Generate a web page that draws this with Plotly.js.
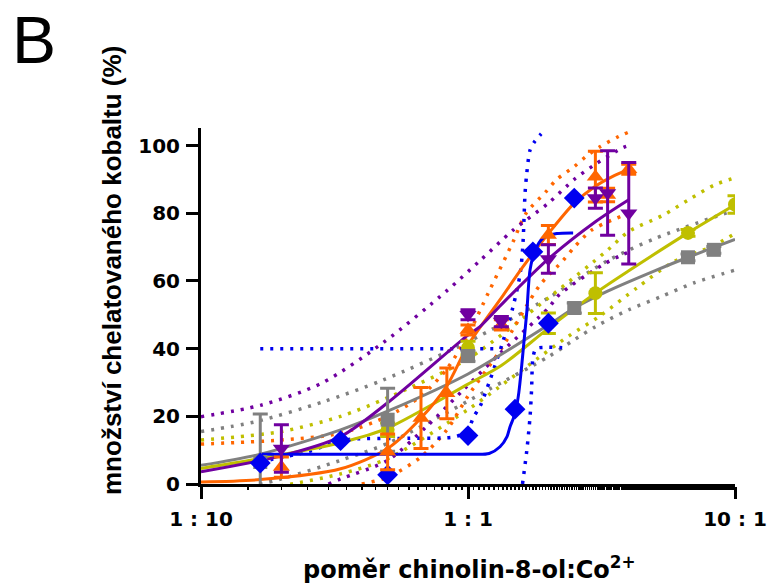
<!DOCTYPE html>
<html>
<head>
<meta charset="utf-8">
<script src="https://cdn.plot.ly/plotly-3.0.1.min.js"></script>
<style>html,body{margin:0;padding:0;background:#fff;}#chart{width:767px;height:586px;}</style>
</head>
<body>
<div id="chart"></div>
<script>
// ---------- data ----------
const xTickVals = [0.1, 1, 10];
const xTickText = ['1 : 10', '1 : 1', '10 : 1'];
const yTickVals = [0, 20, 40, 60, 80, 100];

// grey squares
const greyX   = [0.1667, 0.5, 1, 2.5, 6.667, 8.333];
const greyY   = [6.5, 19, 37.8, 52, 67, 69.2];
const greyErr = [14.2, 9.3, 1.5, 1.5, 1, 1];
const greyFitX = [0.1, 0.1667, 0.3333, 0.5, 1, 2, 2.5, 3.333, 5, 6.667, 10];
const greyFitY = [5.5, 8.8, 16, 21.5, 32.5, 47, 52, 57, 63, 67, 72.3];
const greyUpX = [0.1, 0.16, 0.287, 0.48, 1, 2, 3.333, 5, 10];
const greyUpY = [15.5, 18.4, 24.3, 30.7, 42, 55, 66, 72.5, 81];
const greyLoX = [0.1, 0.2, 0.3333, 0.5, 1, 1.2, 2, 2.5, 3, 4, 5.3, 7, 10];
const greyLoY = [-4, 1.5, 7, 12, 24.5, 28, 37.6, 42.6, 46.5, 51.5, 55.4, 59.4, 63.2];

// yellow circles
const yelX   = [0.5, 1, 2, 3, 6.667, 10];
const yelY   = [16, 40.2, 47.5, 56.4, 74.2, 82.6];
const yelErr = [2, 2, 3, 6, 1, 2.6];
const yelFitX = [0.1, 0.1667, 0.3333, 0.5, 1, 1.333, 2, 3, 4, 6.667, 10];
const yelFitY = [4.6, 7.5, 12.2, 16.5, 29.5, 35, 46, 56.4, 63, 74.2, 82.5];
const yelUpX = [0.1, 0.2, 0.3333, 0.5, 1, 2, 3.32, 4, 5.4, 6.7, 8.4, 10];
const yelUpY = [13, 15.5, 20, 25.5, 37, 55, 69, 74.6, 79.5, 84, 88.4, 90.5];
const yelLoX = [0.1, 0.2, 0.3333, 0.5, 1, 1.3, 1.66, 2.37, 3.1, 4.3, 5.9, 8.1, 10];
const yelLoY = [-3.5, -0.5, 3, 7.5, 22, 28.5, 34.7, 43.6, 49.5, 58, 65.7, 70, 74];

// blue diamonds
const bluX = [0.1667, 0.3333, 0.5, 1, 1.5, 1.75, 2, 2.5];
const bluY = [6.2, 12.8, 2.7, 14.3, 22.1, 68.6, 47.5, 84.5];
const bluFitX = [0.1667, 0.5, 1, 1.2, 1.318, 1.4, 1.438, 1.48, 1.514, 1.55, 1.589, 1.62, 1.661, 1.708, 1.783, 1.911, 2.15, 2.476];
const bluFitY = [8.8, 8.8, 8.8, 9, 11, 14, 17, 19.5, 22.2, 27, 35, 42, 51, 63.3, 69, 72.7, 74, 74.2];
const bluFlatX = [0.1667, 1.3];
const bluFlatY = [40, 40];
const bluUpX = [0.1667, 0.25, 0.345, 0.6, 0.9, 1.0, 1.05, 1.109, 1.21, 1.35, 1.475, 1.567, 1.604, 1.636, 1.66, 1.708, 1.77, 1.88];
const bluUpY = [6.6, 9.5, 13, 13.5, 14, 16, 19.9, 22.9, 30.8, 42, 52.4, 62, 70.2, 86, 91.8, 98.7, 101, 103.5];
const bluLoX = [1.6, 1.661, 1.708, 1.73, 1.753, 1.8, 1.95, 2.35];
const bluLoY = [0, 10, 20, 27.8, 37.6, 40, 40.4, 40.2];

// orange triangles (up)
const orX   = [0.2, 0.5, 0.6667, 0.8333, 1, 1.3333, 2, 3, 3.3333, 4];
const orY   = [5, 9.5, 19.5, 26.8, 45.5, 47, 73.6, 90.8, 85.4, 93];
const orErr = [3, 5.3, 9, 7.5, 1.5, 1.5, 2.8, 7.5, 2, 1.5];
const orFitX = [0.1, 0.1667, 0.3333, 0.5, 0.6667, 0.8333, 1, 1.333, 1.6, 2, 2.5, 3, 3.5, 4];
const orFitY = [0.6, 1.3, 4.5, 10.5, 19.5, 29, 41, 55, 64, 74, 83, 88, 91, 93];
const orUpX = [0.1, 0.2, 0.3333, 0.5, 0.6667, 0.8333, 1, 1.2, 1.475, 1.65, 1.96, 2.15, 2.5, 2.77, 3.13, 3.67, 4];
const orUpY = [11.8, 13, 15, 20, 26, 34, 44, 57, 71.6, 80, 86.4, 90, 93.8, 96.8, 99.7, 102.7, 104];
const orLoX = [0.4, 0.5, 0.6667, 0.8333, 1, 1.3333, 1.86, 2.28, 2.52, 2.9, 3.35, 4];
const orLoY = [0, 2, 8, 16, 26, 40, 58.8, 66.2, 70.3, 75, 77.5, 80];

// purple triangles (down)
const puX   = [0.2, 1, 1.3333, 2, 3, 3.3333, 4];
const puY   = [10.5, 50, 48, 66.5, 84.5, 86, 80];
const puErr = [7, 1.5, 1.5, 4.2, 3, 12.5, 15];
const puFitX = [0.1, 0.2, 0.3333, 0.5, 1, 1.109, 1.333, 2, 3, 4];
const puFitY = [3.6, 8.3, 14, 24, 44, 46.5, 53, 66.5, 77.5, 84];
const puUpX = [0.1, 0.168, 0.283, 0.48, 0.83, 1.109, 1.475, 2, 2.5, 3, 3.8, 4];
const puUpY = [19.9, 23.3, 29.8, 41.7, 57, 66, 75, 83, 90, 94.5, 99.4, 100];
const puLoX = [0.3, 0.3333, 0.5, 0.7, 0.96, 1.3333, 2, 2.2, 3.2, 3.8, 4];
const puLoY = [0, 1.5, 7, 17, 27.8, 39, 52, 56, 64.8, 67.8, 68.5];

// ---------- styles ----------
const C = {grey: '#808080', yel: '#bfbf00', blue: '#0000f0', orange: '#ff6600', purple: '#7000a0'};
const SANS = 'Liberation Sans, Arial, sans-serif';
const WIDE = 'DejaVu Sans, Verdana, sans-serif';

function band(x, y, color) {
  return {x: x, y: y, type: 'scatter', mode: 'lines', hoverinfo: 'skip',
    line: {color: color, width: 3.5, dash: '3px,7px', shape: 'spline', smoothing: 0.8}};
}
function fit(x, y, color) {
  return {x: x, y: y, type: 'scatter', mode: 'lines', hoverinfo: 'skip',
    line: {color: color, width: 3, shape: 'spline', smoothing: 0.8}};
}
function pts(x, y, err, color, symbol, size) {
  const t = {x: x, y: y, type: 'scatter', mode: 'markers', hoverinfo: 'skip',
    marker: {color: color, symbol: symbol, size: size, line: {width: 0}}};
  if (err) t.error_y = {type: 'data', array: err, visible: true, color: color, thickness: 3, width: 7.5};
  return t;
}

const traces = [
  band(greyUpX, greyUpY, C.grey), band(greyLoX, greyLoY, C.grey),
  band(yelUpX, yelUpY, C.yel), band(yelLoX, yelLoY, C.yel),
  band(orUpX, orUpY, C.orange), band(orLoX, orLoY, C.orange),
  band(puUpX, puUpY, C.purple), band(puLoX, puLoY, C.purple),
  band(bluFlatX, bluFlatY, C.blue), band(bluUpX, bluUpY, C.blue), band(bluLoX, bluLoY, C.blue),
  fit(greyFitX, greyFitY, C.grey),
  fit(yelFitX, yelFitY, C.yel),
  fit(orFitX, orFitY, C.orange),
  fit(puFitX, puFitY, C.purple),
  fit(bluFitX, bluFitY, C.blue),
  pts(yelX, yelY, yelErr, C.yel, 'circle', 14),
  pts(greyX, greyY, greyErr, C.grey, 'square', 14),
  pts(bluX, bluY, null, C.blue, 'diamond', 16),
  pts(orX, orY, orErr, C.orange, 'triangle-up', 15),
  pts(puX, puY, puErr, C.purple, 'triangle-down', 15)
];

const L = 201, R = 735, T = 128, B = 484;
const W = 767, H = 586;
const px2paperX = p => (p - L) / (R - L);
const px2paperY = p => (B - p) / (B - T);

const axisCommon = {
  showline: true, linewidth: 3, linecolor: '#000', mirror: false,
  ticks: 'outside', ticklen: 12, tickwidth: 3, tickcolor: '#000',
  showgrid: false, zeroline: false,
  tickfont: {family: WIDE, size: 20, color: '#000', weight: 'bold'}
};

const layout = {
  width: W, height: H,
  margin: {l: L, r: W - R, t: T, b: H - B, pad: 0},
  paper_bgcolor: '#fff', plot_bgcolor: '#fff',
  showlegend: false, hovermode: false,
  xaxis: Object.assign({}, axisCommon, {
    type: 'log', range: [-1, 1], tickvals: xTickVals, ticktext: xTickText,
    ticklabelstandoff: 3,
    minor: {ticks: 'outside', ticklen: 3, tickwidth: 1.5, tickcolor: '#000'}
  }),
  yaxis: Object.assign({}, axisCommon, {
    range: [0, 105.2], tickvals: yTickVals, ticktext: yTickVals.map(String),
    ticklabelstandoff: 2
  }),
  annotations: [
    {text: 'B', xref: 'paper', yref: 'paper', x: px2paperX(10), y: px2paperY(40), xanchor: 'left', yanchor: 'middle',
     showarrow: false, font: {family: SANS, size: 66, color: '#000'}},
    {text: 'množství chelatovaného kobaltu (%)', xref: 'paper', yref: 'paper', x: px2paperX(112), y: px2paperY(271),
     xanchor: 'center', yanchor: 'middle', textangle: -90, showarrow: false,
     font: {family: SANS, size: 26, color: '#000', weight: 'bold'}},
    {text: 'poměr chinolin-8-ol:Co<sup>2+</sup>', xref: 'paper', yref: 'paper', x: px2paperX(469), y: px2paperY(568),
     xanchor: 'center', yanchor: 'middle', showarrow: false,
     font: {family: WIDE, size: 24, color: '#000', weight: 'bold'}}
  ]
};

Plotly.newPlot('chart', traces, layout, {staticPlot: true, displayModeBar: false});
</script>
</body>
</html>
